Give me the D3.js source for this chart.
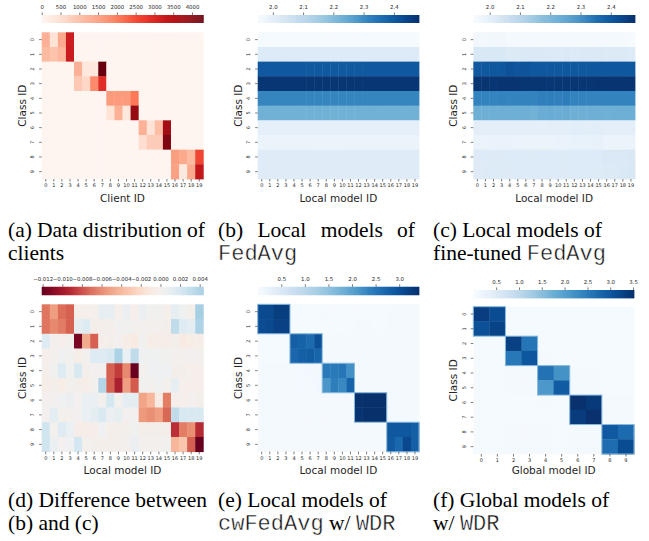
<!DOCTYPE html>
<html>
<head>
<meta charset="utf-8">
<script src="https://cdn.jsdelivr.net/npm/d3@7"></script>
<style>
  body { margin: 0; background: #fff; }
</style>
</head>
<body>
<div id="fig"></div>
<script>
// ---------- tick labels ----------
const CLASS_LABELS = ["0", "1", "2", "3", "4", "5", "6", "7", "8", "9"];
const CLIENT_LABELS = ["0", "1", "2", "3", "4", "5", "6", "7", "8", "9",
                       "10", "11", "12", "13", "14", "15", "16", "17", "18", "19"];
const GLOBAL_LABELS = ["0", "1", "2", "3", "4", "5", "6", "7", "8", "9"];

// ---------- (a) samples per class per client ----------
const DATA_DIST = [
  [1200, 430, 1300, 3200, 0, 0, 0, 0, 0, 0, 0, 0, 0, 0, 0, 0, 0, 0, 0, 0],
  [1080, 950, 1120, 3230, 0, 0, 0, 0, 0, 0, 0, 0, 0, 0, 0, 0, 0, 0, 0, 0],
  [0, 0, 0, 0, 1200, 350, 350, 4300, 0, 0, 0, 0, 0, 0, 0, 0, 0, 0, 0, 0],
  [0, 0, 0, 0, 860, 650, 1720, 2900, 0, 0, 0, 0, 0, 0, 0, 0, 0, 0, 0, 0],
  [0, 0, 0, 0, 0, 0, 0, 0, 1500, 1500, 1500, 1950, 0, 0, 0, 0, 0, 0, 0, 0],
  [0, 0, 0, 0, 0, 0, 0, 0, 430, 1200, 350, 3870, 0, 0, 0, 0, 0, 0, 0, 0],
  [0, 0, 0, 0, 0, 0, 0, 0, 0, 0, 0, 0, 1200, 430, 1030, 3740, 0, 0, 0, 0],
  [0, 0, 0, 0, 0, 0, 0, 0, 0, 0, 0, 0, 520, 820, 820, 4090, 0, 0, 0, 0],
  [0, 0, 0, 0, 0, 0, 0, 0, 0, 0, 0, 0, 0, 0, 0, 0, 1460, 1290, 1080, 2580],
  [0, 0, 0, 0, 0, 0, 0, 0, 0, 0, 0, 0, 0, 0, 0, 0, 1420, 300, 1290, 3350]
];

// ---------- (b) FedAvg: every local model has the same row value ----------
const FEDAVG_ROWS = [1.955, 2.02, 2.40, 2.47, 2.31, 2.21, 2.00, 1.98, 2.015, 2.015];

// ---------- (d) difference (b) - (c) ----------
const DIFF = [
  [-0.0065, -0.0050, -0.0068, -0.0072, -0.0004, -0.0004, -0.0004, 0.0009, 0.0009, -0.0004, 0.0005, -0.0004, 0.0005, 0.0002, 0.0002, -0.0004, 0.0010, 0.0003, -0.0003, 0.0040],
  [-0.0065, -0.0058, -0.0063, -0.0072, 0.0010, 0.0015, -0.0003, -0.0003, -0.0003, 0.0001, 0.0002, -0.0002, 0.0000, -0.0002, -0.0002, -0.0003, 0.0030, 0.0015, 0.0012, 0.0037],
  [0.0015, 0.0000, -0.0004, -0.0002, -0.0115, -0.0045, -0.0072, -0.0004, -0.0003, 0.0000, -0.0006, -0.0008, 0.0002, -0.0006, -0.0006, -0.0005, -0.0003, -0.0008, -0.0006, -0.0006],
  [-0.0004, -0.0002, 0.0003, 0.0002, -0.0005, 0.0000, 0.0015, 0.0015, 0.0018, 0.0038, 0.0008, 0.0030, 0.0004, 0.0003, 0.0003, 0.0002, -0.0002, -0.0001, 0.0000, -0.0002],
  [-0.0003, 0.0002, 0.0015, 0.0002, 0.0018, -0.0003, 0.0000, 0.0000, -0.0072, -0.0085, -0.0058, -0.0121, -0.0002, 0.0004, 0.0004, 0.0004, -0.0003, -0.0003, -0.0004, -0.0004],
  [-0.0006, -0.0003, -0.0006, -0.0002, -0.0003, -0.0005, 0.0000, 0.0035, -0.0072, -0.0097, -0.0050, -0.0074, 0.0002, -0.0001, 0.0003, -0.0002, 0.0010, -0.0004, -0.0004, -0.0004],
  [0.0000, 0.0000, 0.0004, 0.0006, 0.0000, 0.0008, 0.0008, -0.0001, 0.0020, -0.0002, 0.0012, 0.0012, -0.0048, -0.0040, -0.0008, -0.0062, -0.0004, -0.0004, 0.0000, -0.0003],
  [0.0000, 0.0012, -0.0002, -0.0002, 0.0000, 0.0008, 0.0012, 0.0018, 0.0006, 0.0010, 0.0000, 0.0000, -0.0052, -0.0055, -0.0050, -0.0070, 0.0030, 0.0018, 0.0018, 0.0018],
  [0.0022, -0.0001, 0.0015, 0.0008, -0.0005, -0.0005, -0.0005, 0.0004, -0.0003, -0.0003, -0.0003, 0.0003, -0.0003, -0.0003, -0.0003, -0.0003, -0.0090, -0.0062, -0.0056, -0.0092],
  [0.0022, 0.0005, 0.0000, 0.0004, 0.0020, -0.0002, -0.0003, -0.0003, -0.0003, -0.0003, -0.0002, 0.0006, -0.0002, -0.0002, -0.0002, 0.0002, -0.0040, -0.0033, -0.0073, -0.0121]
];

// ---------- (e) cwFedAvg w/ WDR, local models ----------
const CW_LOCAL = [
  [3.08, 3.10, 3.25, 3.25, 0.04, 0.04, 0.04, 0.04, 0.05, 0.04, 0.04, 0.04, 0.04, 0.04, 0.04, 0.04, 0.05, 0.05, 0.05, 0.05],
  [3.05, 3.10, 3.20, 3.20, 0.04, 0.04, 0.04, 0.04, 0.04, 0.04, 0.04, 0.04, 0.05, 0.05, 0.04, 0.04, 0.05, 0.05, 0.05, 0.05],
  [0.04, 0.04, 0.04, 0.04, 2.80, 2.75, 2.65, 3.00, 0.05, 0.05, 0.05, 0.05, 0.05, 0.05, 0.05, 0.05, 0.05, 0.05, 0.05, 0.05],
  [0.04, 0.04, 0.04, 0.04, 2.70, 2.80, 2.85, 2.72, 0.05, 0.05, 0.05, 0.05, 0.05, 0.05, 0.05, 0.05, 0.05, 0.05, 0.05, 0.05],
  [0.05, 0.05, 0.05, 0.05, 0.06, 0.06, 0.07, 0.09, 2.46, 2.46, 2.50, 2.15, 0.05, 0.05, 0.05, 0.05, 0.05, 0.05, 0.05, 0.05],
  [0.05, 0.05, 0.05, 0.05, 0.06, 0.06, 0.06, 0.08, 2.05, 2.40, 2.26, 2.74, 0.05, 0.05, 0.05, 0.05, 0.05, 0.05, 0.05, 0.05],
  [0.05, 0.05, 0.05, 0.05, 0.05, 0.05, 0.05, 0.05, 0.06, 0.05, 0.06, 0.06, 3.40, 3.42, 3.42, 3.42, 0.06, 0.06, 0.05, 0.05],
  [0.05, 0.05, 0.05, 0.05, 0.05, 0.05, 0.05, 0.05, 0.05, 0.05, 0.05, 0.05, 3.36, 3.42, 3.42, 3.42, 0.06, 0.05, 0.05, 0.05],
  [0.05, 0.05, 0.05, 0.05, 0.05, 0.05, 0.05, 0.05, 0.05, 0.06, 0.06, 0.05, 0.05, 0.05, 0.05, 0.05, 2.90, 2.90, 2.90, 2.80],
  [0.05, 0.05, 0.05, 0.05, 0.05, 0.05, 0.05, 0.05, 0.05, 0.05, 0.05, 0.05, 0.05, 0.05, 0.05, 0.05, 2.87, 2.70, 3.11, 2.80]
];

// ---------- (f) global models w/ WDR ----------
const CW_GLOBAL = [
  [3.33, 3.15, 0.04, 0.04, 0.04, 0.04, 0.04, 0.04, 0.04, 0.04],
  [3.08, 3.26, 0.04, 0.04, 0.04, 0.04, 0.04, 0.04, 0.04, 0.04],
  [0.04, 0.04, 3.29, 2.59, 0.04, 0.04, 0.04, 0.04, 0.04, 0.04],
  [0.04, 0.04, 2.56, 3.01, 0.05, 0.04, 0.04, 0.04, 0.04, 0.04],
  [0.04, 0.04, 0.06, 0.05, 2.63, 2.19, 0.05, 0.05, 0.04, 0.04],
  [0.04, 0.04, 0.05, 0.05, 2.10, 2.94, 0.05, 0.05, 0.04, 0.04],
  [0.04, 0.04, 0.04, 0.04, 0.05, 0.04, 3.50, 3.40, 0.05, 0.05],
  [0.04, 0.04, 0.04, 0.04, 0.04, 0.04, 3.36, 3.50, 0.05, 0.05],
  [0.04, 0.04, 0.05, 0.05, 0.05, 0.04, 0.05, 0.05, 2.98, 2.73],
  [0.04, 0.04, 0.05, 0.05, 0.05, 0.04, 0.05, 0.05, 2.70, 3.15]
];

// diagonal blocks outlined in (e) and (f): [firstClass, lastClass, firstModel, lastModel]
const BLOCKS_LOCAL = [[0, 1, 0, 3], [2, 3, 4, 7], [4, 5, 8, 11], [6, 7, 12, 15], [8, 9, 16, 19]];
const BLOCKS_GLOBAL = [[0, 1, 0, 1], [2, 3, 2, 3], [4, 5, 4, 5], [6, 7, 6, 7], [8, 9, 8, 9]];

// colorbar ticks
const TICKS_A = [0, 500, 1000, 1500, 2000, 2500, 3000, 3500, 4000];
const TICKS_BC = [2.0, 2.1, 2.2, 2.3, 2.4];
const TICKS_D = [-0.012, -0.010, -0.008, -0.006, -0.004, -0.002, 0.000, 0.002, 0.004];
const TICKS_E = [0.5, 1.0, 1.5, 2.0, 2.5, 3.0];
const TICKS_F = [0.5, 1.0, 1.5, 2.0, 2.5, 3.0, 3.5];

// (b): same value for every local model; (c): (b) minus the difference in (d)
const FEDAVG = FEDAVG_ROWS.map(v => CLIENT_LABELS.map(() => v));
const FEDAVG_FT = FEDAVG.map((row, i) => row.map((v, j) => v - DIFF[i][j]));

// ---------- drawing ----------
const W = 649, H = 541;
const SANS = "DejaVu Sans";
const SERIF = "Liberation Serif";
const MONO = "Liberation Mono";
const INK = "#262626";

const svg = d3.select("#fig").append("svg")
    .attr("width", W)
    .attr("height", H);

function drawHeatmap(p) {
  const g = svg.append("g");
  const xs = d3.scaleBand().domain(d3.range(p.xLabels.length)).range([p.x0, p.x1]);
  const ys = d3.scaleBand().domain(d3.range(p.yLabels.length)).range([p.y0, p.y1]);
  const color = d3.scaleSequential(p.interp).domain(p.colorDomain).clamp(true);

  // cells
  const cells = [];
  p.values.forEach((row, i) => row.forEach((v, j) => cells.push({i: i, j: j, v: v})));
  g.selectAll("rect.cell")
    .data(cells)
    .enter()
    .append("rect")
      .attr("class", "cell")
      .attr("x", d => xs(d.j))
      .attr("y", d => ys(d.i))
      .attr("width", xs.bandwidth() + 0.4)
      .attr("height", ys.bandwidth() + 0.4)
      .attr("fill", d => color(d.v));

  // block outlines
  if (p.blocks) {
    g.selectAll("rect.block")
      .data(p.blocks)
      .enter()
      .append("rect")
        .attr("class", "block")
        .attr("x", d => xs(d[2]))
        .attr("y", d => ys(d[0]))
        .attr("width", d => xs(d[3]) + xs.bandwidth() - xs(d[2]))
        .attr("height", d => ys(d[1]) + ys.bandwidth() - ys(d[0]))
        .attr("fill", "none")
        .attr("stroke", "#86b8de")
        .attr("stroke-width", 1);
  }

  // x axis
  const xa = g.append("g")
      .attr("transform", "translate(0," + p.y1 + ")")
      .call(d3.axisBottom(xs).tickSize(2.6).tickPadding(2.2).tickFormat(j => p.xLabels[j]));
  xa.select(".domain").remove();
  xa.attr("font-size", 5).attr("font-family", SANS);
  xa.selectAll("line").attr("stroke", INK).attr("stroke-width", 0.6);
  xa.selectAll("text").attr("fill", INK);

  // y axis, labels turned on their side
  const ya = g.append("g")
      .attr("transform", "translate(" + p.x0 + ",0)")
      .call(d3.axisLeft(ys).tickSize(2.6).tickFormat(i => p.yLabels[i]));
  ya.select(".domain").remove();
  ya.attr("font-size", 5).attr("font-family", SANS);
  ya.selectAll("line").attr("stroke", INK).attr("stroke-width", 0.6);
  ya.selectAll("text")
      .attr("fill", INK)
      .attr("x", null)
      .attr("dy", null)
      .attr("text-anchor", "middle")
      .attr("transform", "translate(-7.4,0) rotate(-90)");

  // axis titles
  g.append("text")
      .attr("x", (p.x0 + p.x1) / 2)
      .attr("y", p.y1 + p.xTitleDy)
      .attr("text-anchor", "middle")
      .attr("font-family", SANS)
      .attr("font-size", 10.5)
      .attr("fill", INK)
      .text(p.xTitle);
  g.append("text")
      .attr("transform", "translate(" + (p.x0 - 16.2) + "," + ((p.y0 + p.y1) / 2) + ") rotate(-90)")
      .attr("text-anchor", "middle")
      .attr("font-family", SANS)
      .attr("font-size", 10.5)
      .attr("fill", INK)
      .text("Class ID");

  // colorbar on top
  const cb = p.cbar;
  const cs = d3.scaleLinear().domain(cb.domain).range([p.x0, p.x1]);
  const steps = d3.range(160).map(k => cb.domain[0] + (cb.domain[1] - cb.domain[0]) * k / 160);
  const stepW = (p.x1 - p.x0) / 160;
  g.selectAll("rect.cb")
    .data(steps)
    .enter()
    .append("rect")
      .attr("class", "cb")
      .attr("x", d => cs(d))
      .attr("y", cb.y0)
      .attr("width", stepW + 0.4)
      .attr("height", cb.y1 - cb.y0)
      .attr("fill", d => color(d));
  const ca = g.append("g")
      .attr("transform", "translate(0," + cb.y0 + ")")
      .call(d3.axisTop(cs).tickValues(cb.ticks).tickSize(2.6).tickPadding(3.6).tickFormat(cb.fmt));
  ca.select(".domain").remove();
  ca.attr("font-size", 5.4).attr("font-family", SANS);
  ca.selectAll("line").attr("stroke", INK).attr("stroke-width", 0.6);
  ca.selectAll("text").attr("fill", INK);
}

const TOP = {y0: 32.3, y1: 179, cb: [15, 23]};
const BOT = {y0: 304.3, y1: 451.7, cb: [286.8, 295.2]};

drawHeatmap({
  x0: 41.7, x1: 203.3, y0: TOP.y0, y1: TOP.y1,
  values: DATA_DIST, xLabels: CLIENT_LABELS, yLabels: CLASS_LABELS,
  interp: d3.interpolateReds, colorDomain: [0, 4300],
  xTitle: "Client ID", xTitleDy: 22.5,
  cbar: {y0: TOP.cb[0], y1: TOP.cb[1], domain: [0, 4300], ticks: TICKS_A, fmt: d3.format("d")}
});

drawHeatmap({
  x0: 257.7, x1: 419, y0: TOP.y0, y1: TOP.y1,
  values: FEDAVG, xLabels: CLIENT_LABELS, yLabels: CLASS_LABELS,
  interp: d3.interpolateBlues, colorDomain: [1.95, 2.483],
  xTitle: "Local model ID", xTitleDy: 22.5,
  cbar: {y0: TOP.cb[0], y1: TOP.cb[1], domain: [1.95, 2.483], ticks: TICKS_BC, fmt: d3.format(".1f")}
});

drawHeatmap({
  x0: 473.3, x1: 635, y0: TOP.y0, y1: TOP.y1,
  values: FEDAVG_FT, xLabels: CLIENT_LABELS, yLabels: CLASS_LABELS,
  interp: d3.interpolateBlues, colorDomain: [1.946, 2.48],
  xTitle: "Local model ID", xTitleDy: 22.5,
  cbar: {y0: TOP.cb[0], y1: TOP.cb[1], domain: [1.946, 2.48], ticks: TICKS_BC, fmt: d3.format(".1f")}
});

// diverging map centred on zero, so only the light part of the blue side shows
const DIFF_LIM = 0.0121;
drawHeatmap({
  x0: 41.7, x1: 203.3, y0: BOT.y0, y1: BOT.y1,
  values: DIFF, xLabels: CLIENT_LABELS, yLabels: CLASS_LABELS,
  interp: t => d3.interpolateRdBu(t), colorDomain: [-DIFF_LIM, DIFF_LIM],
  xTitle: "Local model ID", xTitleDy: 22,
  cbar: {y0: BOT.cb[0], y1: BOT.cb[1], domain: [-0.0121, 0.00437], ticks: TICKS_D, fmt: d3.format(".3f")}
});

drawHeatmap({
  x0: 257.7, x1: 419, y0: BOT.y0, y1: BOT.y1,
  values: CW_LOCAL, xLabels: CLIENT_LABELS, yLabels: CLASS_LABELS, blocks: BLOCKS_LOCAL,
  interp: d3.interpolateBlues, colorDomain: [0, 3.42],
  xTitle: "Local model ID", xTitleDy: 22,
  cbar: {y0: BOT.cb[0], y1: BOT.cb[1], domain: [0, 3.42], ticks: TICKS_E, fmt: d3.format(".1f")}
});

drawHeatmap({
  x0: 473.3, x1: 634, y0: 306.7, y1: 454,
  values: CW_GLOBAL, xLabels: GLOBAL_LABELS, yLabels: CLASS_LABELS, blocks: BLOCKS_GLOBAL,
  interp: d3.interpolateBlues, colorDomain: [0, 3.52],
  xTitle: "Global model ID", xTitleDy: 19.5,
  cbar: {y0: 290, y1: 298.3, domain: [0, 3.52], ticks: TICKS_F, fmt: d3.format(".1f")}
});

// ---------- sub-captions ----------
const CAP_SIZE = 21.5;
const MONO_SIZE = 22;
function caption(x, y, parts) {
  const t = svg.append("text")
      .attr("x", x)
      .attr("y", y)
      .attr("font-size", CAP_SIZE)
      .attr("fill", "#000")
      .attr("xml:space", "preserve");
  parts.forEach(s => {
    const ts = t.append("tspan").text(s[0]);
    if (s[1]) {
      // thinner typewriter face
      ts.attr("font-family", MONO)
        .attr("font-size", MONO_SIZE)
        .attr("fill", "#111")
        .attr("stroke", "#fff")
        .attr("stroke-width", 0.4);
    } else {
      ts.attr("font-family", SERIF);
    }
  });
  return t;
}
// a line stretched over a given width, word by word
function justified(x, y, words, width) {
  const nodes = words.map(w => caption(0, y, [[w, false]]));
  const total = d3.sum(nodes, n => n.node().getComputedTextLength());
  const gap = (width - total) / (words.length - 1);
  let cx = x;
  nodes.forEach(n => { n.attr("x", cx); cx += n.node().getComputedTextLength() + gap; });
}

const COL = [8, 218, 433];
const LINE1 = 237, LINE2 = 260;
const LINE3 = 507, LINE4 = 530;

justified(COL[0], LINE1, ["(a)", "Data", "distribution", "of"], 197);
caption(COL[0], LINE2, [["clients", false]]);
justified(COL[1], LINE1, ["(b)", "Local", "models", "of"], 197);
caption(COL[1], LINE2, [["FedAvg", true]]);
caption(COL[2], LINE1, [["(c) Local models of", false]]);
caption(COL[2], LINE2, [["fine-tuned ", false], ["FedAvg", true]]);

justified(COL[0], LINE3, ["(d)", "Difference", "between"], 199);
caption(COL[0], LINE4, [["(b) and (c)", false]]);
caption(COL[1], LINE3, [["(e) Local models of", false]]);
caption(COL[1], LINE4, [["cwFedAvg", true], [" w/ ", false], ["WDR", true]]);
caption(COL[2], LINE3, [["(f) Global models of", false]]);
caption(COL[2], LINE4, [["w/ ", false], ["WDR", true]]);
</script>
</body>
</html>
